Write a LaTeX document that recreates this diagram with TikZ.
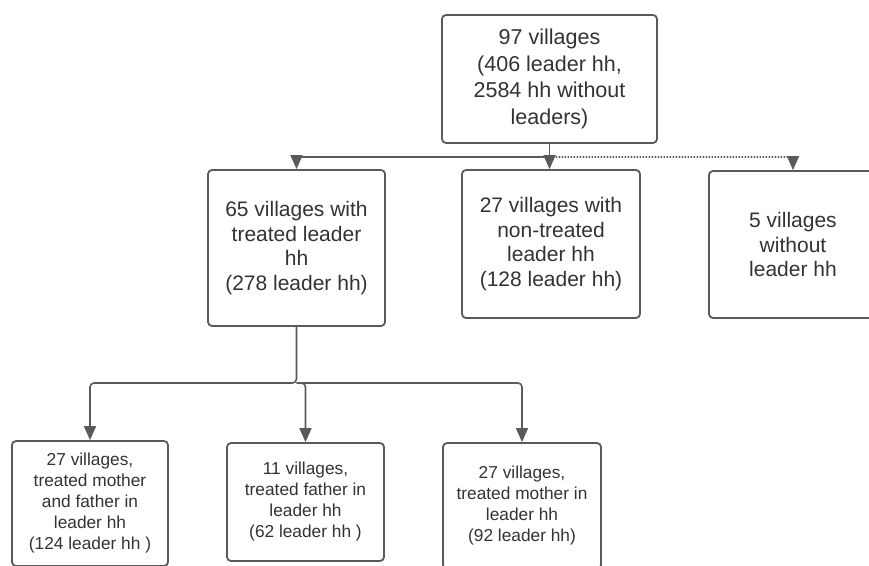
\documentclass[tikz,border=0pt]{standalone}
\usepackage{fontspec}
\setmainfont{Liberation Sans}
\usetikzlibrary{arrows.meta}
\definecolor{boxline}{HTML}{5A5A5A}
\definecolor{boxtext}{HTML}{333333}
\begin{document}
\begin{tikzpicture}[
  x=1pt, y=-1pt,
  every node/.style={text=boxtext, align=center},
  box/.style={draw=boxline, line width=1.8pt, rounded corners=4pt, fill=white, inner sep=0pt},
  topbox/.style={box, font=\fontsize{21.5}{26.5}\selectfont},
  midbox/.style={box, font=\fontsize{21}{24.5}\selectfont},
  lowbox/.style={box, font=\fontsize{17.3}{21}\selectfont},
  link/.style={draw=boxline, line width=1.6pt, rounded corners=4pt,
    -{Triangle[width=12pt,length=14pt]}},
  dotlink/.style={link, line width=1.6pt, dash pattern=on 1.5pt off 1.5pt}
]
\useasboundingbox (0,0) rectangle (869,565);
% first level
\node[topbox, minimum width=215pt, minimum height=128pt] (all) at (549.5,79)
  {97 villages\\(406 leader hh,\\2584 hh without\\leaders)};
% second level
\node[midbox, minimum width=177pt, minimum height=156pt] (treat) at (296.5,248)
  {65 villages with\\treated leader\\hh\\(278 leader hh)};
\node[midbox, minimum width=178pt, minimum height=148pt] (nontreat) at (551,244)
  {27 villages with\\non-treated\\leader hh\\(128 leader hh)};
\node[midbox, minimum width=168pt, minimum height=147pt] (noleader) at (793,244.5)
  {5 villages\\without\\leader hh};
% third level
\node[lowbox, minimum width=156pt, minimum height=125pt] (both) at (90,503.5)
  {27 villages,\\treated mother\\and father in\\leader hh\\(124 leader hh )};
\node[lowbox, minimum width=157pt, minimum height=118pt] (father) at (305.5,502)
  {11 villages,\\treated father in\\leader hh\\(62 leader hh )};
\node[lowbox, minimum width=158pt, minimum height=126pt] (mother) at (522,506)
  {27 villages,\\treated mother in\\leader hh\\(92 leader hh)};
% connectors
\coordinate (split1) at (549.5,157);
\coordinate (split2) at (296.5,383);
\draw[link] (all.south) -- (all.south |- nontreat.north);
\draw[link] (split1) -| (treat.north);
\draw[dotlink] (split1) -| (noleader.north);
\draw[link] (treat.south) -- (split2) -| (both.north);
\draw[link] (split2) -| (father.north);
\draw[link] (split2) -| (mother.north);
\end{tikzpicture}
\end{document}
